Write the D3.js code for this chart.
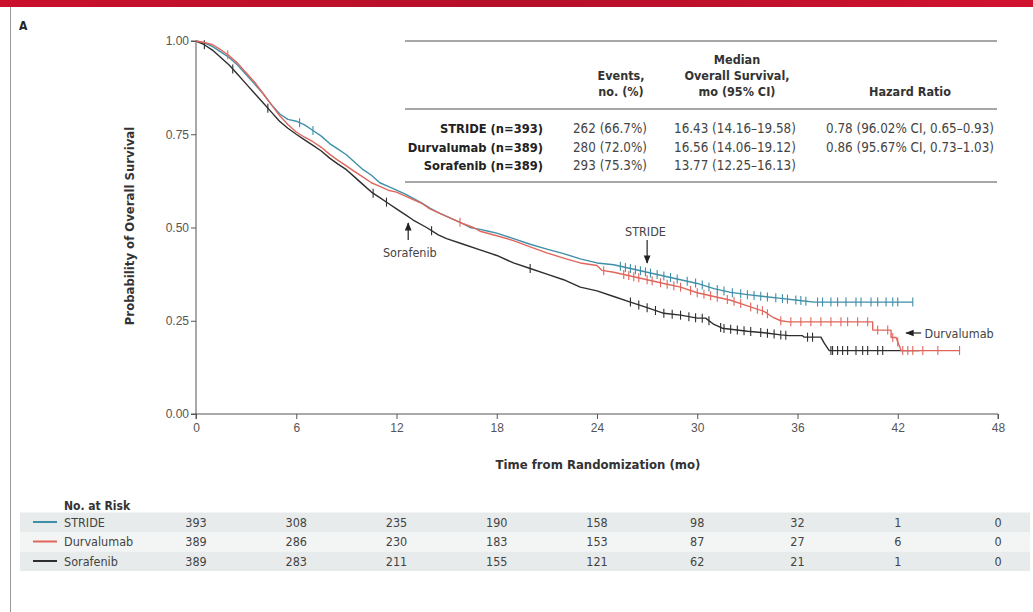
<!DOCTYPE html>
<html>
<head>
<meta charset="utf-8">
<script src="https://cdn.jsdelivr.net/npm/d3@7"></script>
<style>
  body { margin: 0; background: #fff; }
  svg { display: block; font-family: "Liberation Sans Narrow", "DejaVu Sans Condensed", sans-serif; }
  .tick text { fill: #555; font-size: 12px; }
  .domain, .tick line { stroke: #555; }
</style>
</head>
<body>
<svg id="chart" width="1033" height="612"></svg>
<script>
// ---- data ----
const arms = ["STRIDE", "Durvalumab", "Sorafenib"];
const armColors = ["#3f8fa8", "#e0665c", "#2e2e2e"];

// Kaplan-Meier curves [month, survival]; repeated months are visible drops
const strideTrace = [[0,1],[0.5,0.995],[1,0.985],[1.5,0.97],[2,0.955],[2.5,0.935],[3,0.91],[3.5,0.885],[4,0.86],[4.5,0.83],
  [5,0.805],[5.5,0.79],[6,0.785],[6.5,0.775],[7,0.76],[7.5,0.745],[8,0.725],[8.5,0.71],[9,0.695],[9.5,0.675],[10,0.655],
  [10.5,0.64],[11,0.62],[11.5,0.61],[12,0.6],[12.5,0.59],[13,0.578],[13.5,0.566],[14,0.552],[14.5,0.54],[15,0.53],
  [15.5,0.52],[16,0.51],[16.4,0.5],[17,0.495],[17.5,0.49],[18,0.485],[19,0.47],[20,0.455],[21,0.442],[22,0.43],
  [23,0.416],[24,0.405],[25,0.4],[26,0.39],[27,0.38],[28,0.37],[29,0.36],[30,0.35],[31,0.336],[32,0.326],[33,0.32],
  [34,0.315],[35,0.31],[36,0.305],[37,0.3],[42.9,0.3]];
const durvaTrace = [[0,1],[0.5,0.996],[1,0.99],[1.5,0.976],[2,0.96],[2.5,0.94],[3,0.915],[3.5,0.89],[4,0.86],[4.5,0.83],
  [5,0.8],[5.5,0.776],[6,0.756],[6.5,0.742],[7,0.73],[7.5,0.715],[8,0.696],[8.5,0.68],[9,0.665],[9.5,0.65],[10,0.635],
  [10.5,0.62],[11,0.61],[11.5,0.6],[12,0.595],[12.5,0.585],[13,0.575],[13.5,0.565],[14,0.55],[14.5,0.54],[15,0.53],
  [15.5,0.52],[16,0.51],[16.6,0.5],[17,0.49],[18,0.478],[19,0.465],[20,0.448],[21,0.432],[22,0.418],[23,0.405],
  [24,0.398],[24.3,0.385],[25,0.38],[26,0.37],[27,0.36],[28,0.35],[29,0.34],[30,0.325],[31,0.315],[32,0.305],[33,0.29],
  [34,0.275],[34.5,0.26],[35,0.25],[35.5,0.247],[40.5,0.247],[40.5,0.225],[41.6,0.225],[41.6,0.205],[41.9,0.205],
  [42.2,0.17],[45.7,0.17]];
const soraTrace = [[0,1],[0.5,0.99],[1,0.975],[1.5,0.955],[2,0.935],[2.5,0.91],[3,0.885],[3.5,0.86],[4,0.835],[4.5,0.81],
  [5,0.785],[5.5,0.766],[6,0.75],[6.5,0.735],[7,0.72],[7.5,0.705],[8,0.686],[8.5,0.67],[9,0.655],[9.5,0.635],[10,0.615],
  [10.5,0.595],[11,0.58],[11.5,0.565],[12,0.55],[12.5,0.535],[13,0.52],[13.8,0.5],[14.5,0.48],[15,0.47],[16,0.455],
  [17,0.44],[18,0.425],[19,0.405],[20,0.39],[21,0.375],[22,0.36],[23,0.34],[24,0.33],[25,0.315],[26,0.3],[27,0.285],
  [28,0.27],[29,0.265],[30,0.257],[30.5,0.257],[31,0.24],[31.5,0.23],[33,0.222],[34,0.218],[35,0.212],[35.5,0.21],
  [36.3,0.21],[36.4,0.206],[37.4,0.206],[37.6,0.19],[37.9,0.17],[43.3,0.17]];

// censoring marks (months)
const strideCensor = [6.2,7.0,25.4,25.7,26.0,26.3,26.6,26.9,27.2,27.6,28.0,28.4,28.8,29.4,29.9,30.3,30.7,31.2,31.6,32.1,
  32.6,33.0,33.4,33.8,34.2,34.7,35.1,35.4,35.9,36.2,36.5,37.2,37.5,38.0,38.4,38.9,39.5,39.8,40.4,40.8,41.3,41.7,42.0,42.9];
const durvaCensor = [1.9,15.8,24.4,25.6,25.9,26.2,26.5,27.0,27.3,27.8,28.2,28.6,29.0,29.6,30.0,30.4,30.8,31.2,31.8,32.2,
  32.6,33.2,33.6,33.9,34.2,35.0,35.6,36.2,36.8,37.4,38.0,38.6,39.0,39.6,40.2,40.8,41.4,41.7,42.0,42.3,42.6,42.9,43.5,44.4,45.7];
const soraCensor = [0.5,2.2,4.3,10.6,11.4,14.1,20.0,26.0,26.5,27.0,27.5,28.0,28.5,29.0,29.5,29.9,30.3,30.7,31.4,31.6,
  32.0,32.4,32.8,33.2,33.8,34.2,34.6,35.0,35.3,36.6,36.9,38.0,38.1,38.4,38.7,39.0,39.5,39.9,40.2,40.8,41.1];

const xTicks = [0, 6, 12, 18, 24, 30, 36, 42, 48];
const yTicks = [0, 0.25, 0.5, 0.75, 1];

const atRiskStride = [393, 308, 235, 190, 158, 98, 32, 1, 0];
const atRiskDurva = [389, 286, 230, 183, 153, 87, 27, 6, 0];
const atRiskSora = [389, 283, 211, 155, 121, 62, 21, 1, 0];

const tableLabels = ["STRIDE (n=393)", "Durvalumab (n=389)", "Sorafenib (n=389)"];
const tableEvents = ["262 (66.7%)", "280 (72.0%)", "293 (75.3%)"];
const tableMedian = ["16.43 (14.16\u201319.58)", "16.56 (14.06\u201319.12)", "13.77 (12.25\u201316.13)"];
const tableHR = ["0.78 (96.02% CI, 0.65\u20130.93)", "0.86 (95.67% CI, 0.73\u20131.03)", ""];

// ---- drawing ----
const svg = d3.select("#chart");
const defs = svg.append("defs");

// NEJM red header band
const grad = defs.append("linearGradient").attr("id", "band");
grad.append("stop").attr("offset", "0%").attr("stop-color", "#c9102c");
grad.append("stop").attr("offset", "50%").attr("stop-color", "#b50f2a");
grad.append("stop").attr("offset", "100%").attr("stop-color", "#d0122f");
svg.append("rect").attr("x", 0).attr("y", 0).attr("width", 1033).attr("height", 7).attr("fill", "url(#band)");
svg.append("line").attr("x1", 10.5).attr("x2", 10.5).attr("y1", 7).attr("y2", 612)
  .attr("stroke", "#9a9a9a").attr("stroke-width", 1);

svg.append("text").attr("x", 19).attr("y", 30).text("A")
  .attr("font-weight", "bold").attr("font-size", 12).attr("fill", "#222");

const x = d3.scaleLinear().domain([0, 48]).range([196, 998]);
const y = d3.scaleLinear().domain([0, 1]).range([414, 41]);

svg.append("g").attr("transform", "translate(0,414)")
  .call(d3.axisBottom(x).tickValues(xTicks).tickSize(5).tickPadding(4))
  .call(g => g.select(".domain").attr("d", "M196,5V0H998V5"));
svg.append("g").attr("transform", "translate(196,0)")
  .call(d3.axisLeft(y).tickValues(yTicks).tickFormat(d3.format(".2f")).tickSize(5).tickPadding(2))
  .call(g => g.select(".domain").attr("d", "M-5,41H0V414H-5"));

svg.append("text").attr("x", 598).attr("y", 469).attr("text-anchor", "middle")
  .attr("font-weight", "bold").attr("font-size", 13).attr("fill", "#333")
  .text("Time from Randomization (mo)");
svg.append("text").attr("transform", "translate(134,226) rotate(-90)").attr("text-anchor", "middle")
  .attr("font-weight", "bold").attr("font-size", 13).attr("fill", "#333")
  .text("Probability of  Overall Survival");

// summary table
const tbl = svg.append("g").attr("font-size", 13.3).attr("fill", "#444");
[41, 109, 182].forEach(yy => {
  tbl.append("line").attr("x1", 405).attr("x2", 997).attr("y1", yy).attr("y2", yy)
    .attr("stroke", "#8a8a8a").attr("stroke-width", 1.6);
});
const header = [
  [621, ["Events,", "no. (%)"]],
  [737, ["Median", "Overall Survival,", "mo (95% CI)"]],
  [910, ["Hazard Ratio"]]
];
header.forEach(([cx, lines]) => {
  lines.forEach((s, i) => {
    tbl.append("text").attr("x", cx).attr("y", 96 - (lines.length - 1 - i) * 16)
      .attr("text-anchor", "middle").attr("font-weight", "bold").attr("font-size", 12.5)
      .attr("fill", "#333").text(s);
  });
});
const rowY = [133, 152, 170];
tableLabels.forEach((s, i) => {
  tbl.append("text").attr("x", 543).attr("y", rowY[i]).attr("text-anchor", "end")
    .attr("font-weight", "bold").attr("font-size", 12.8).attr("fill", "#222").text(s);
  tbl.append("text").attr("x", 610).attr("y", rowY[i]).attr("text-anchor", "middle").text(tableEvents[i]);
  tbl.append("text").attr("x", 735).attr("y", rowY[i]).attr("text-anchor", "middle").text(tableMedian[i]);
  tbl.append("text").attr("x", 910).attr("y", rowY[i]).attr("text-anchor", "middle").text(tableHR[i]);
});

// curves
const line = d3.line().x(d => x(d[0])).y(d => y(d[1]));
const bis = d3.bisector(d => d[0]).right;
// survival at month t (used to sit censor marks on the curve)
function survAt(pts, t) {
  const i = Math.max(0, bis(pts, t) - 1);
  if (i >= pts.length - 1) return pts[pts.length - 1][1];
  const a = pts[i], b = pts[i + 1];
  if (b[0] === a[0]) return a[1];
  return a[1] + (b[1] - a[1]) * (t - a[0]) / (b[0] - a[0]);
}
const series = [
  { pts: strideTrace, censor: strideCensor, color: armColors[0] },
  { pts: soraTrace, censor: soraCensor, color: armColors[2] },
  { pts: durvaTrace, censor: durvaCensor, color: armColors[1] }
];
series.forEach(s => {
  const g = svg.append("g");
  g.append("path").datum(s.pts).attr("d", line).attr("fill", "none")
    .attr("stroke", s.color).attr("stroke-width", 1.4).attr("stroke-linejoin", "round");
  g.selectAll("line").data(s.censor).join("line")
    .attr("x1", d => x(d)).attr("x2", d => x(d))
    .attr("y1", d => y(survAt(s.pts, d)) - 4.5).attr("y2", d => y(survAt(s.pts, d)) + 4.5)
    .attr("stroke", s.color).attr("stroke-width", 1.1);
});

// annotations
const ann = svg.append("g").attr("font-size", 12.5).attr("fill", "#444");
defs.append("marker").attr("id", "ah").attr("viewBox", "0 0 10 10")
  .attr("refX", 9).attr("refY", 5).attr("markerWidth", 7).attr("markerHeight", 7).attr("orient", "auto")
  .append("path").attr("d", "M0,1L10,5L0,9Z").attr("fill", "#222");
const arrow = (x1, y1, x2, y2) => ann.append("line").attr("x1", x1).attr("y1", y1).attr("x2", x2).attr("y2", y2)
  .attr("stroke", "#222").attr("stroke-width", 1.2).attr("marker-end", "url(#ah)");
arrow(x(12.7), 240, x(12.7), 223);
ann.append("text").attr("x", x(12.8)).attr("y", 257).attr("text-anchor", "middle").text("Sorafenib");
arrow(x(27), 240, x(27), 263);
ann.append("text").attr("x", x(26.9)).attr("y", 236).attr("text-anchor", "middle").text("STRIDE");
arrow(x(43.4), 333, x(42.5), 333);
ann.append("text").attr("x", x(43.6)).attr("y", 337.5).text("Durvalumab");

// number at risk
const risk = svg.append("g").attr("font-size", 12.5).attr("fill", "#444");
risk.append("text").attr("x", 64).attr("y", 510).attr("font-weight", "bold").attr("font-size", 12)
  .attr("fill", "#333").text("No. at Risk");
const riskRows = [atRiskStride, atRiskDurva, atRiskSora];
const bandFill = ["#e7ebeb", "#f3f5f5", "#e7ebeb"];
riskRows.forEach((vals, i) => {
  const cy = 522 + i * 19.5;
  risk.append("rect").attr("x", 20).attr("y", cy - 9.5).attr("width", 1010).attr("height", 19.5).attr("fill", bandFill[i]);
  risk.append("line").attr("x1", 33).attr("x2", 57).attr("y1", cy).attr("y2", cy)
    .attr("stroke", armColors[i]).attr("stroke-width", 2);
  risk.append("text").attr("x", 64).attr("y", cy + 4.5).text(arms[i]);
  risk.selectAll(null).data(vals).join("text")
    .attr("x", (d, j) => x(xTicks[j])).attr("y", cy + 4.5).attr("text-anchor", "middle").text(d => d);
});
</script>
</body>
</html>
